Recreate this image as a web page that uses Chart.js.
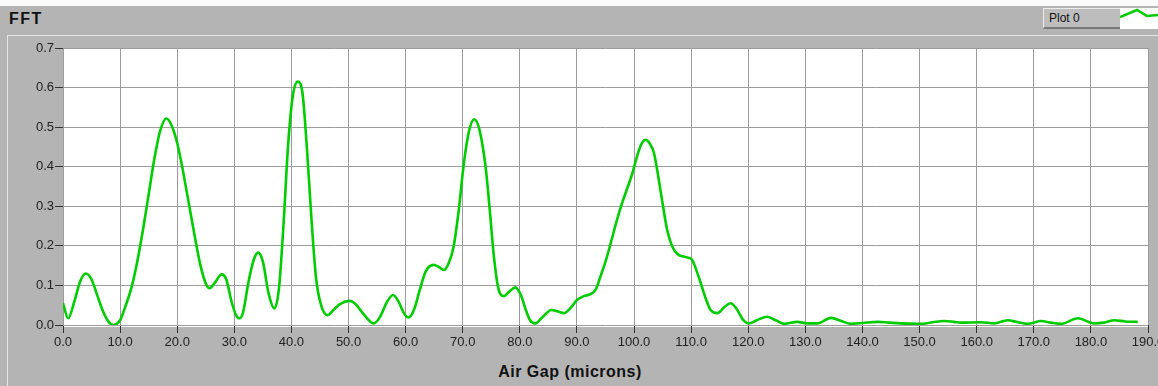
<!DOCTYPE html>
<html>
<head>
<meta charset="utf-8">
<title>FFT</title>
<script src="https://cdn.jsdelivr.net/npm/chart.js@4/dist/chart.umd.min.js"></script>
<style>
  html, body { margin: 0; padding: 0; }
  body {
    width: 1158px; height: 386px; overflow: hidden; position: relative;
    background: #b4b4b4; font-family: "Liberation Sans", Arial, sans-serif;
  }
  .topstrip { position: absolute; left: 0; top: 0; width: 1158px; height: 6px; background: #fbfbfb; }
  .header { position: absolute; left: 9px; top: 10px; font-size: 16px; font-weight: bold; letter-spacing: 1.5px; color: #111; }
  .bevel-h { position: absolute; left: 7px; top: 35px; width: 1151px; height: 1px; background: #e6e6e6; }
  .bevel-v { position: absolute; left: 7px; top: 35px; width: 1px; height: 351px; background: #e6e6e6; }
  .legend-name {
    position: absolute; left: 1043px; top: 8px; width: 72px; height: 18px;
    background: #bdbdbd; border-top: 1px solid #ececec; border-left: 1px solid #ececec;
    border-right: 2px solid #7a7a7a; border-bottom: 2px solid #7a7a7a;
    font-size: 12px; line-height: 18px; color: #111; padding-left: 5px; box-sizing: content-box;
  }
  .legend-swatch { position: absolute; left: 1120px; top: 8px; width: 38px; height: 21px; background: #fff; }
  .axis-title { position: absolute; left: 0; width: 1140px; top: 363px; text-align: center; font-size: 16px; font-weight: bold; letter-spacing: 0.5px; color: #111; }
  canvas { position: absolute; left: 0; top: 0; }
</style>
</head>
<body>
<div class="topstrip"></div>
<div class="header">FFT</div>
<div class="bevel-h"></div>
<div class="bevel-v"></div>
<div class="legend-name">Plot 0</div>
<div class="legend-swatch">
  <svg width="38" height="21" viewBox="0 0 38 21">
    <polyline points="0,9 17,2 27,8 38,7" fill="none" stroke="#00cc00" stroke-width="2.5"/>
  </svg>
</div>
<div class="axis-title">Air Gap (microns)</div>
<canvas id="fft" width="1158" height="386"></canvas>
<script>
// Air gap positions (microns) and FFT magnitude at each position
const airGap = [
  0, 0.9, 2.0, 3.0, 4.0, 5.0, 6.0, 7.0, 8.0, 8.8,
  10.0, 11.0, 12.0, 13.0, 14.0, 15.0, 16.0, 17.0, 18.1, 19.0,
  20.0, 21.0, 22.0, 23.0, 24.0, 25.0, 25.7, 26.5, 27.8, 28.6,
  29.5, 30.3, 30.9, 31.5, 32.5, 33.4, 34.2, 35.0, 36.0, 37.0,
  37.8, 38.6, 39.4, 40.2, 41.1, 41.9, 42.7, 43.5, 44.3, 45.2,
  46.3, 47.5, 48.5, 50.2, 51.3, 52.5, 54.4, 55.5, 56.8, 57.8,
  58.8, 59.7, 60.5, 61.5, 62.5, 63.5, 64.9, 65.8, 66.7, 67.5,
  68.4, 69.3, 70.2, 71.1, 72.0, 72.9, 74.0, 74.8, 75.4, 76.2,
  77.2, 78.2, 79.2, 80.2, 81.0, 81.8, 82.7, 84.0, 85.5, 86.5,
  87.7, 89.0, 90.0, 91.2, 92.4, 93.3, 94.1, 95.0, 95.9, 96.9,
  97.9, 98.8, 99.7, 100.6, 101.4, 102.0, 102.7, 103.5, 104.3, 104.9,
  105.8, 106.7, 107.7, 108.7, 109.5, 110.2, 111.0, 111.7, 112.6, 113.4,
  114.6, 115.8, 116.9, 118.0, 119.0, 120.1, 121.5, 123.3, 124.8, 126.3,
  128.6, 130.3, 132.1, 134.5, 136.3, 138.0, 140.0, 142.6, 144.6, 146.7,
  150.2, 152.3, 154.3, 156.0, 157.2, 160.7, 163.1, 165.4, 167.2, 168.9,
  171.3, 173.0, 174.8, 177.7, 180.6, 182.3, 184.1, 186.0, 188.2
];
const fftMagnitude = [
  0.055, 0.017, 0.060, 0.110, 0.130, 0.115, 0.075, 0.035, 0.008, 0.000,
  0.012, 0.050, 0.095, 0.160, 0.240, 0.330, 0.420, 0.490, 0.522, 0.505,
  0.460, 0.390, 0.310, 0.230, 0.155, 0.105, 0.093, 0.105, 0.128, 0.115,
  0.060, 0.025, 0.017, 0.030, 0.110, 0.165, 0.183, 0.160, 0.080, 0.042,
  0.090, 0.250, 0.450, 0.575, 0.615, 0.590, 0.450, 0.270, 0.120, 0.050,
  0.025, 0.040, 0.053, 0.061, 0.052, 0.030, 0.004, 0.020, 0.060, 0.076,
  0.058, 0.030, 0.019, 0.040, 0.090, 0.135, 0.152, 0.147, 0.139, 0.155,
  0.198, 0.290, 0.409, 0.490, 0.520, 0.495, 0.400, 0.280, 0.181, 0.095,
  0.073, 0.085, 0.095, 0.075, 0.040, 0.012, 0.004, 0.020, 0.038, 0.035,
  0.030, 0.045, 0.063, 0.073, 0.078, 0.090, 0.122, 0.160, 0.206, 0.260,
  0.308, 0.345, 0.383, 0.430, 0.460, 0.468, 0.460, 0.434, 0.370, 0.316,
  0.240, 0.198, 0.178, 0.173, 0.170, 0.164, 0.135, 0.105, 0.065, 0.038,
  0.030, 0.045, 0.055, 0.040, 0.015, 0.004, 0.012, 0.021, 0.012, 0.003,
  0.008, 0.004, 0.004, 0.018, 0.010, 0.003, 0.005, 0.008, 0.006, 0.004,
  0.003, 0.007, 0.010, 0.008, 0.006, 0.007, 0.004, 0.012, 0.007, 0.003,
  0.010, 0.006, 0.003, 0.017, 0.004, 0.006, 0.012, 0.009, 0.008
];

// Axis ranges and tick spacing
const xRange = [0, 190];
const xStep = 10;
const yRange = [0, 0.7];
const yStep = 0.1;

const points = airGap.map((x, i) => ({ x: x, y: fftMagnitude[i] }));

// White plotting surface behind the grid
const plotSurface = {
  id: 'plotSurface',
  beforeDraw(chart) {
    const { ctx, chartArea: a } = chart;
    ctx.save();
    ctx.fillStyle = '#ffffff';
    ctx.fillRect(a.left, a.top, a.right - a.left, a.bottom - a.top + 2);
    ctx.restore();
  }
};

const tickFont = { family: '"Liberation Sans", Arial, sans-serif', size: 13 };

new Chart(document.getElementById('fft'), {
  type: 'line',
  data: {
    datasets: [{
      label: 'Plot 0',
      data: points,
      borderColor: '#00cc00',
      borderWidth: 2.6,
      pointRadius: 0,
      fill: false,
      cubicInterpolationMode: 'monotone'
    }]
  },
  options: {
    responsive: false,
    animation: false,
    events: [],
    layout: { padding: { top: 48, right: 10, left: 0, bottom: 0 } },
    plugins: { legend: { display: false }, tooltip: { enabled: false } },
    scales: {
      x: {
        type: 'linear',
        min: xRange[0], max: xRange[1],
        border: { display: false },
        grid: { color: '#9c9c9c', lineWidth: 1, tickColor: '#333', tickLength: 8 },
        ticks: {
          stepSize: xStep, autoSkip: false, maxRotation: 0, padding: 2,
          color: '#222', font: tickFont,
          callback: v => Number(v).toFixed(1)
        },
        // fixed axis band; the last label is allowed to run off the edge
        afterFit: s => { s.height = 61; s.paddingLeft = 0; s.paddingRight = 0; }
      },
      y: {
        min: yRange[0], max: yRange[1],
        border: { display: false },
        grid: { color: '#9c9c9c', lineWidth: 1, tickColor: '#333', tickLength: 8 },
        ticks: {
          stepSize: yStep, padding: 1,
          color: '#222', font: tickFont,
          callback: v => Number(v).toFixed(1)
        },
        afterFit: s => { s.width = 63; s.paddingTop = 0; s.paddingBottom = 0; }
      }
    }
  },
  plugins: [plotSurface]
});
</script>
</body>
</html>
